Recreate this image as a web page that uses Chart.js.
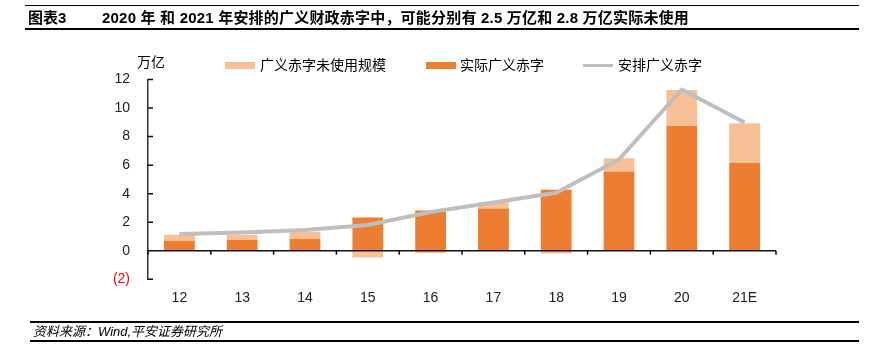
<!DOCTYPE html>
<html>
<head>
<meta charset="utf-8">
<script src="https://cdn.jsdelivr.net/npm/chart.js@4.4.0/dist/chart.umd.min.js"></script>
<style>
  body { margin: 0; width: 871px; height: 363px; background: #fff; position: relative; overflow: hidden;
         font-family: "Liberation Sans", "Noto Sans CJK SC", sans-serif; color: #000; }
  canvas { position: absolute; left: 0; top: 0; }
  .rule { position: absolute; background: #000; }
  .txt { position: absolute; white-space: nowrap; }
  .sw { position: absolute; }
</style>
</head>
<body>
<canvas id="chart" width="871" height="363"></canvas>

<!-- header -->
<div class="rule" style="left:25px;top:5px;width:834px;height:1px"></div>
<div class="txt" style="left:28px;top:10px;font-size:15px;line-height:16px;font-weight:bold">图表3</div>
<div class="txt" id="title" style="left:102px;top:10px;font-size:15px;line-height:16px;font-weight:bold;letter-spacing:0.2px">2020 年 和 2021 年安排的广义财政赤字中，可能分别有 2.5 万亿和 2.8 万亿实际未使用</div>
<div class="rule" style="left:25px;top:28px;width:834px;height:2px"></div>

<!-- unit + legend -->
<div class="txt" style="left:137px;top:54px;font-size:14px;line-height:16px">万亿</div>
<div class="sw" style="left:225px;top:62px;width:30px;height:7px;background:#F8C096"></div>
<div class="txt" style="left:260px;top:57px;font-size:14px;line-height:16px">广义赤字未使用规模</div>
<div class="sw" style="left:426px;top:62px;width:30px;height:7px;background:#ED7D31"></div>
<div class="txt" style="left:460px;top:57px;font-size:14px;line-height:16px">实际广义赤字</div>
<div class="sw" style="left:583px;top:64px;width:30px;height:3px;background:#BFBFBF"></div>
<div class="txt" style="left:618px;top:57px;font-size:14px;line-height:16px">安排广义赤字</div>

<!-- footer -->
<div class="rule" style="left:30px;top:321px;width:829px;height:2px"></div>
<div class="txt" style="left:33px;top:324px;font-size:13px;line-height:15px;font-style:italic">资料来源：Wind,平安证券研究所</div>
<div class="rule" style="left:30px;top:340px;width:829px;height:2px"></div>

<script>
// 年份
const categories = ["12", "13", "14", "15", "16", "17", "18", "19", "20", "21E"];
// 实际广义赤字 (万亿)
const actualDeficit = [0.70, 0.75, 0.85, 2.33, 2.82, 2.96, 4.27, 5.56, 8.75, 6.15];
// 广义赤字未使用规模 (万亿)
const unusedDeficit = [0.43, 0.35, 0.49, -0.47, -0.16, 0.44, -0.19, 0.92, 2.52, 2.79];
// 安排广义赤字 (万亿)
const plannedDeficit = [1.17, 1.28, 1.46, 1.80, 2.72, 3.38, 4.06, 6.40, 11.30, 8.99];
// y 轴刻度
const yTicks = [-2, 0, 2, 4, 6, 8, 10, 12];

const ORANGE = "#ED7D31";
const PEACH = "#F8C096";
const GREY = "#BFBFBF";

// 零线、x轴分隔刻度、y轴内刻度
const axisMarks = {
  id: "axisMarks",
  afterDatasetsDraw(chart) {
    const { ctx, chartArea, scales } = chart;
    const x = scales.x, y = scales.y;
    const y0 = y.getPixelForValue(0);
    ctx.save();
    ctx.strokeStyle = "#111";
    ctx.lineWidth = 1.5;
    ctx.beginPath();
    ctx.moveTo(chartArea.left, y0);
    ctx.lineTo(chartArea.right, y0);
    // category boundaries
    for (let i = 0; i <= categories.length; i++) {
      let px;
      if (i === 0) px = chartArea.left;
      else if (i === categories.length) px = chartArea.right;
      else px = (x.getPixelForValue(i - 1) + x.getPixelForValue(i)) / 2;
      ctx.moveTo(px, y0);
      ctx.lineTo(px, y0 + 4);
    }
    // inner ticks on y axis
    yTicks.forEach((v) => {
      const py = y.getPixelForValue(v);
      ctx.moveTo(chartArea.left, py);
      ctx.lineTo(chartArea.left + 5, py);
    });
    ctx.stroke();
    ctx.restore();
  }
};

new Chart(document.getElementById("chart"), {
  data: {
    labels: categories,
    datasets: [
      {
        type: "line",
        label: "安排广义赤字",
        data: plannedDeficit,
        borderColor: GREY,
        backgroundColor: GREY,
        borderWidth: 4,
        pointRadius: 0,
        tension: 0,
        borderJoinStyle: "round",
        order: 0
      },
      {
        type: "bar",
        label: "实际广义赤字",
        data: actualDeficit,
        backgroundColor: ORANGE,
        borderWidth: 0,
        barPercentage: 0.49,
        categoryPercentage: 1,
        order: 1
      },
      {
        type: "bar",
        label: "广义赤字未使用规模",
        data: unusedDeficit,
        backgroundColor: PEACH,
        borderWidth: 0,
        barPercentage: 0.49,
        categoryPercentage: 1,
        order: 1
      }
    ]
  },
  options: {
    responsive: false,
    animation: false,
    devicePixelRatio: 1,
    layout: { padding: { left: 0, right: 95, top: 79.5, bottom: 53.7 } },
    plugins: {
      legend: { display: false },
      tooltip: { enabled: false }
    },
    scales: {
      x: {
        stacked: true,
        grid: { display: false },
        border: { display: false },
        ticks: { padding: 2.5, color: "#222", font: { size: 14, family: "'Liberation Sans', sans-serif" } },
        afterFit: (s) => { s.height = 30; }
      },
      y: {
        stacked: true,
        min: -2,
        max: 12,
        grid: { display: false },
        border: { display: true, color: "#333", width: 1.5 },
        afterFit: (s) => { s.width = 148; },
        afterBuildTicks: (s) => { s.ticks = yTicks.map((v) => ({ value: v })); },
        ticks: {
          padding: 10,
          font: { size: 14, family: "'Liberation Sans', sans-serif" },
          color: (c) => (c.tick.value < 0 ? "#FF0000" : "#222"),
          callback: (v) => (v < 0 ? "(" + Math.abs(v) + ")" : v)
        }
      }
    }
  },
  plugins: [axisMarks]
});
</script>
</body>
</html>
